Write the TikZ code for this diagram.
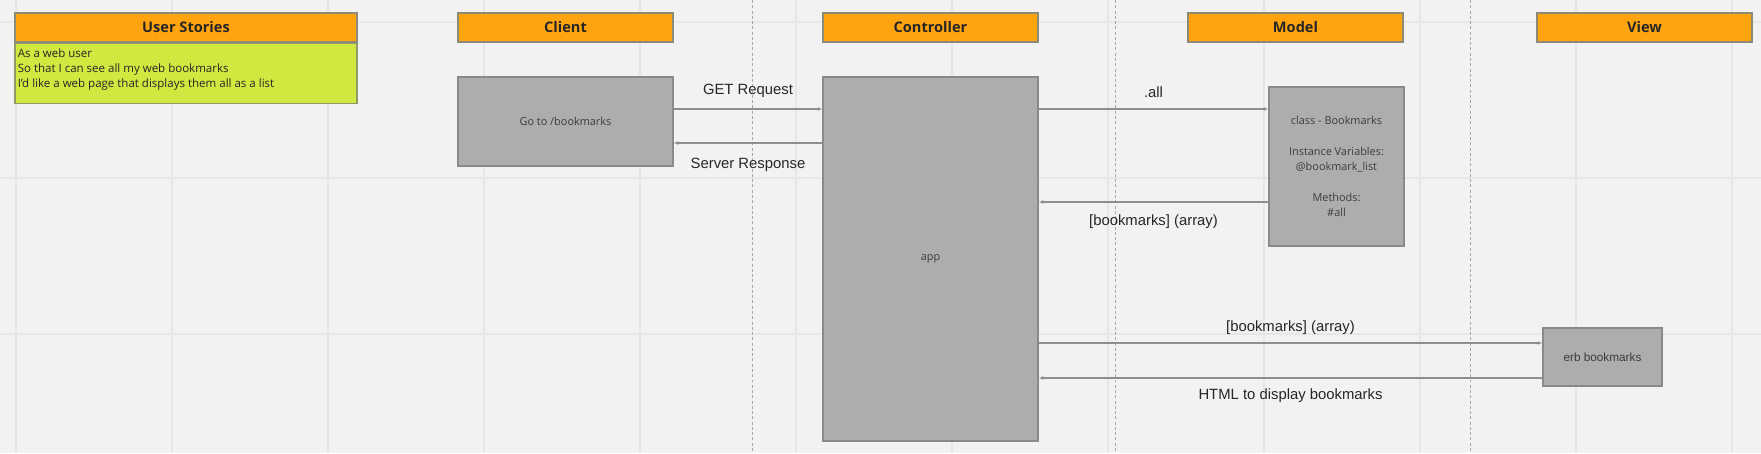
\documentclass[tikz,border=0pt]{standalone}
\usepackage{fontspec}
\setmainfont{Open Sans}
\newfontfamily\arialfont{Liberation Sans}
\usetikzlibrary{arrows.meta}
\definecolor{BoardBg}{HTML}{F2F2F2}
\definecolor{BoardGrid}{HTML}{E6E6E6}
\definecolor{LaneDash}{HTML}{A8A8A8}
\definecolor{HeadOrange}{HTML}{FFA30F}
\definecolor{HeadEdge}{HTML}{8E8A78}
\definecolor{StoryGreen}{HTML}{D1E841}
\definecolor{StoryEdge}{HTML}{8E9A68}
\definecolor{BoxGray}{HTML}{ADADAD}
\definecolor{BoxEdge}{HTML}{8A8A8A}
\definecolor{MsgLine}{HTML}{8E8E8E}
\definecolor{InkDark}{HTML}{262626}

\tikzset{
  header/.style={draw=HeadEdge, fill=HeadOrange, line width=0.7pt, inner sep=0pt,
    minimum width=4.30cm, minimum height=0.58cm, text=InkDark,
    font=\fontsize{8.3}{10}\selectfont\bfseries},
  partbox/.style={draw=BoxEdge, fill=BoxGray, line width=0.8pt, inner sep=0pt,
    align=center, text=InkDark!90, font=\fontsize{6.2}{8.7}\selectfont},
  msg/.style={draw=MsgLine, line width=0.6pt, -{Latex[length=2.6pt,width=2.2pt]}},
  msglabel/.style={inner sep=0pt, text height=6.2pt, text depth=1.8pt, text=InkDark,
    font=\arialfont\fontsize{8.45}{10}\selectfont},
  gridline/.style={draw=BoardGrid, line width=1.1pt},
  laneline/.style={draw=LaneDash, line width=0.55pt, dash pattern=on 1.7pt off 1.3pt}
}

\begin{document}
\begin{tikzpicture}[x=0.02cm,y=-0.02cm]
\path[use as bounding box, fill=BoardBg] (0,0) rectangle (1761,453);

% board grid and lanes
\foreach \gx in {16,172,...,1732}
  \draw[gridline] (\gx,0) -- (\gx,453);
\foreach \gy in {22,178,334}
  \draw[gridline] (0,\gy) -- (1761,\gy);
\foreach \dx in {752,1115,1470}
  \draw[laneline] (\dx,0) -- (\dx,453);

% column headers
\node[header, minimum width=6.84cm] (hstories) at (186,27.5) {User Stories};
\node[header] (hclient) at (565.5,27.5) {Client};
\node[header] (hcontroller) at (930.5,27.5) {Controller};
\node[header] (hmodel) at (1295.5,27.5) {Model};
\node[header] (hview) at (1644.5,27.5) {View};

% user story card
\node[draw=StoryEdge, fill=StoryGreen, line width=0.7pt, minimum width=6.84cm,
  minimum height=1.2cm, inner sep=0pt, anchor=north] (stories) at (hstories.south) {};
\node[anchor=north west, inner sep=0pt, align=left, text=InkDark,
  font=\fontsize{6.55}{8.5}\selectfont] (storytext) at ([xshift=0.06cm,yshift=-0.12cm]stories.north west)
  {As a web user\\So that I can see all my web bookmarks\\I'd like a web page that displays them all as a list};

% parts
\node[partbox, minimum width=4.30cm, minimum height=1.78cm] (client) at (565.5,121.5) {Go to /bookmarks};
\node[partbox, minimum width=4.30cm, minimum height=7.28cm] (app) at (930.5,259) {app};
\node[partbox, minimum width=2.70cm, minimum height=3.18cm] (model) at (1336.5,166.5)
  {class - Bookmarks\\[8.7pt]Instance Variables:\\@bookmark\_list\\[8.7pt]Methods:\\\#all};
\node[partbox, minimum width=2.38cm, minimum height=1.16cm, font=\arialfont\fontsize{6.7}{8}\selectfont]
  (erb) at (1602.5,357) {erb bookmarks};

% message rows
\coordinate (rowget) at (0,109);
\coordinate (rowresp) at (0,143);
\coordinate (rowback) at (0,202);
\coordinate (rowrender) at (0,343);
\coordinate (rowhtml) at (0,378);

\draw[msg] (client.east |- rowget) -- (app.west |- rowget)
  node[msglabel, midway, above=6pt] {GET Request};
\draw[msg] (app.west |- rowresp) -- (client.east |- rowresp)
  node[msglabel, midway, below=8pt] {Server Response};
\draw[msg] (app.east |- rowget) -- (model.west |- rowget)
  node[msglabel, midway, above=4.5pt] {.all};
\draw[msg] (model.west |- rowback) -- (app.east |- rowback)
  node[msglabel, midway, below=7pt] {[bookmarks] (array)};
\draw[msg] (app.east |- rowrender) -- (erb.west |- rowrender)
  node[msglabel, midway, above=4.5pt] {[bookmarks] (array)};
\draw[msg] (erb.west |- rowhtml) -- (app.east |- rowhtml)
  node[msglabel, midway, below=6pt] {HTML to display bookmarks};
\end{tikzpicture}
\end{document}
